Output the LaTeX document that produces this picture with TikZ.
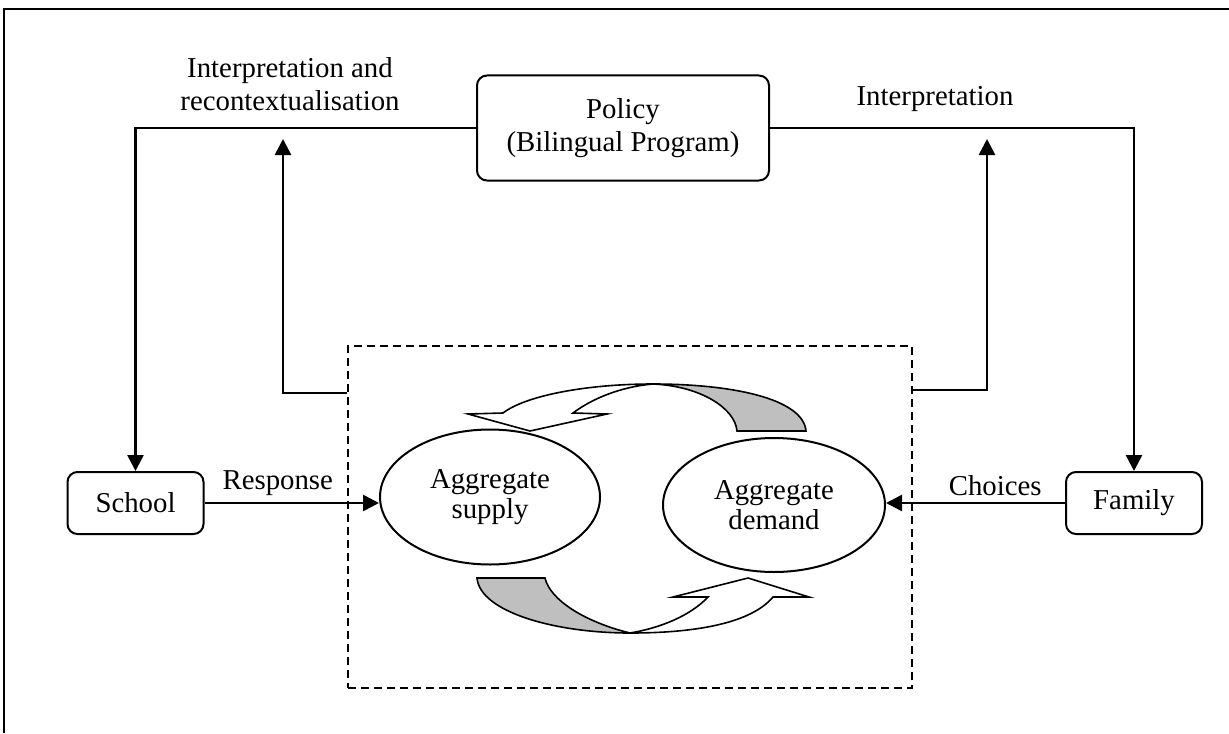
\documentclass[tikz,border=0pt]{standalone}
\usepackage{fontspec}
\setmainfont{Liberation Serif}
\usepackage{tikz}
\usetikzlibrary{
  arrows.meta,
  shapes.geometric,
  positioning,
  calc
}
\definecolor{mkInk}{HTML}{000000}
\definecolor{mkTail}{HTML}{BFBFBF}
\newcommand{\mkfont}{\fontsize{14.4}{16.5}\selectfont}
\tikzset{
  mknode/.style={
    draw=mkInk, rounded corners=5pt, line width=1pt, inner sep=0pt,
    font=\mkfont, align=center
  },
  agent/.style={mknode, minimum width=68pt, minimum height=31pt},
  policy/.style={mknode, minimum width=146pt, minimum height=52.5pt},
  market/.style={draw=mkInk, ellipse, line width=1pt, inner sep=0pt, align=center,
    font=\fontsize{14.4}{15}\selectfont, minimum width=110pt, minimum height=67.5pt},
  zone/.style={draw=mkInk, line width=1pt, dash pattern=on 4pt off 2.5pt,
    minimum width=282pt, minimum height=171pt, inner sep=0pt},
  flow/.style={-{Triangle[length=8pt, width=8pt]}, line width=1.3pt, mkInk},
  tag/.style={font=\mkfont, align=center, inner sep=1pt},
  band/.style={draw=mkInk, line width=0.8pt, line join=miter, fill=white},
  bandtail/.style={band, fill=mkTail},
  frameline/.style={line width=1.4pt, mkInk}
}

\begin{document}
\begin{tikzpicture}[x=0.5pt, y=-0.5pt]
  \useasboundingbox (0,0) rectangle (1229,733);
  \draw[frameline] (4,733) -- (4,9) -- (1229,9);

  \node[policy] (policy) at (623,128) {Policy\\(Bilingual Program)};
  \node[agent] (school) at (135.5,503) {School};
  \node[agent] (family) at (1134,503) {Family};
  \node[zone] (zone) at (630,517) {};
  \node[market] (supply) at (490,497) {Aggregate\\supply};
  \node[market, minimum width=111pt, minimum height=67pt] (demand) at (774,505) {Aggregate\\demand};
  \node[tag] (interpL) at (290,84) {Interpretation and\\recontextualisation};
  \node[tag] (interpR) at (935,99) {Interpretation};

  % policy down to the actors
  \draw[flow] (policy.west) -| (school.north);
  \draw[flow] (policy.east) -| (family.north);

  % actors into the market
  \draw[flow] (school.east) -- (school.east -| supply.west)
    node[tag, above=2pt, pos=0.42] {Response};
  \draw[flow] (family.west) -- (family.west -| demand.east)
    node[tag, above=2pt, pos=0.39] {Choices};

  % market back up to policy
  \coordinate (outL) at (zone.west |- 0,393);
  \coordinate (outR) at (zone.east |- 0,390);
  \coordinate (upL) at (283,139);
  \coordinate (upR) at (987,139);
  \draw[flow] (outL) -| (upL);
  \draw[flow] (outR) -| (upR);

  % supply to demand loop
  \filldraw[bandtail] (806,431) .. controls (803,398) and (730,384) .. (653,384)
    .. controls (700,386) and (735,408) .. (737,431) -- cycle;
  \filldraw[band] (653,384) .. controls (585,384) and (525,396) .. (503,413)
    -- (468,414) -- (530,431) -- (607,414) -- (573,413)
    .. controls (597,395) and (628,386) .. (653,384) -- cycle;
  \filldraw[bandtail] (477,578) .. controls (480,612) and (555,633) .. (630,633)
    .. controls (585,622) and (550,600) .. (545,578) -- cycle;
  \filldraw[band] (630,633) .. controls (700,633) and (752,622) .. (773,597)
    -- (809,597) -- (748,578) -- (673,597) -- (708,597)
    .. controls (690,616) and (660,628) .. (630,633) -- cycle;
\end{tikzpicture}
\end{document}
